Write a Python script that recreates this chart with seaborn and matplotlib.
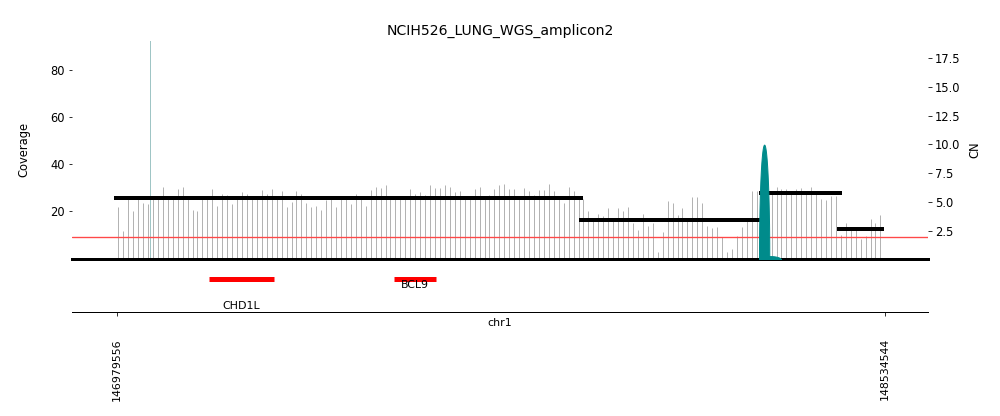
import numpy as np
import pandas as pd
import matplotlib
matplotlib.use("Agg")
import matplotlib.pyplot as plt
import seaborn as sns

# ---------------- data ----------------
title = "NCIH526_LUNG_WGS_amplicon2"
chrom = "chr1"
region_start = 146979556
region_end = 148534544

# binned coverage (10 kb windows)
bin_start = 146983000
bin_size = 10020
coverage = [
    21.7, 11.5, 25.5, 20.0, 25.5, 23.8, 23.0, 25.5, 25.5, 30.2,
    25.5, 25.5, 29.4, 30.6, 25.5, 20.7, 20.3, 25.5, 25.5, 29.4,
    22.5, 27.6, 27.2, 23.0, 25.5,
    28.1, 27.6, 25.5, 25.5, 29.1, 27.6, 29.4, 25.5, 28.6, 22.1,
    24.1, 28.5, 27.6, 23.8, 21.7, 22.5, 20.6, 24.9, 25.5, 21.7,
    25.5, 25.5, 23.0, 27.6, 25.5, 22.3,
    29.2, 30.2, 29.8, 31.1, 25.5, 25.5, 25.5, 25.5, 29.4, 27.6,
    28.1, 26.8, 31.1, 29.8, 29.8, 31.1, 30.6, 28.3, 28.7, 25.5,
    25.5, 29.4, 30.6, 25.5, 26.8, 29.4, 31.1,
    31.5, 29.4, 29.4, 25.5, 29.8, 28.9, 27.2, 29.0, 29.0, 31.5,
    28.9, 25.5, 23.8, 30.2, 28.5, 25.5, 25.5, 20.4, 16.0, 19.1,
    17.9, 21.3, 16.0, 21.3, 20.4, 22.1,
    14.9, 12.3, 18.8, 14.0, 14.9, 2.6, 11.1, 24.3, 23.4, 18.3,
    21.3, 16.0, 26.3, 26.0, 23.8, 14.0, 13.0, 13.4, 9.0, 2.9,
    3.9, 9.4, 13.6, 17.4, 28.9, 28.9,
    28.0, 28.0,
    28.9, 30.6, 29.4, 29.4, 27.8, 29.4, 29.8, 27.8, 30.2, 27.8,
    25.5, 24.7, 26.6, 26.6, 10.2, 15.3, 12.4, 12.4, 8.5, 9.4,
    16.6, 14.9, 18.3,
]

# copy-number segments
seg_start = [146974300, 147916350, 148280200, 148438150]
seg_end = [147923880, 148282250, 148447670, 148533300]
seg_cn = [5.34, 3.46, 5.80, 2.67]

# breakpoint arcs (start, end, height in CN units)
arc_start = [148280200, 148281500]
arc_end = [148301050, 148324750]
arc_height = [9.98, 0.30]

# very tall foldback edge
edge_pos = [147046570]

# genes
gene_names = ["CHD1L", "BCL9"]
gene_start = [147166640, 147541603]
gene_end = [147298246, 147626229]

baseline_cn = 2.0

# ---------------- style ----------------
sns.set_style("ticks")
plt.rcParams.update({
    "font.family": ["DejaVu Sans"],
    "text.color": "black",
    "axes.labelcolor": "black",
    "xtick.color": "black",
    "ytick.color": "black",
    "axes.edgecolor": "black",
})

fig = plt.figure(figsize=(1000 / 72, 416 / 72), dpi=72)
ax = fig.add_axes([0.072, 0.3786, 0.856, 0.5228])
ax2 = ax.twinx()
gax = fig.add_axes([0.072, 0.25, 0.856, 0.1202])

xlim = (146889256, 148622400)
fs = 11.5

# coverage bars
xpos = bin_start + np.arange(len(coverage)) * bin_size
ax.vlines(xpos, 0, coverage, color="#b3b3b3", lw=1, zorder=1)
ax.vlines(edge_pos, 0, 200, color="#5f9f9f", alpha=0.6, lw=1, zorder=2)
ax.set_xlim(*xlim)
ax.set_ylim(0, 92.5)
ax.set_yticks([20, 40, 60, 80])
ax.set_xticks([])
ax.tick_params(axis="y", length=3.5, width=0.8, labelsize=fs)
ax.set_ylabel("Coverage", fontsize=fs, labelpad=20)
ax.set_title(title, fontsize=14, pad=6)
for s in ["top", "left", "right"]:
    ax.spines[s].set_visible(False)
ax.spines["bottom"].set_linewidth(3)

# CN segments via seaborn
seg_df = pd.DataFrame({
    "pos": [p for a, b in zip(seg_start, seg_end) for p in (a, b)],
    "cn": [c for c in seg_cn for _ in range(2)],
    "seg": [i for i in range(len(seg_cn)) for _ in range(2)],
})
sns.lineplot(data=seg_df, x="pos", y="cn", units="seg", estimator=None,
             sort=False, color="black", lw=4, ax=ax2, zorder=3,
             solid_capstyle="butt")
ax2.axhline(baseline_cn, color="#ff4848", lw=1.35, zorder=2.5)

# breakpoint arcs
for a, b, h in zip(arc_start, arc_end, arc_height):
    c = (a + b) / 2
    w = (b - a) / 2
    xx = np.linspace(a, b, 200)
    yy = h * np.sqrt(np.clip(1 - ((xx - c) / w) ** 2, 0, 1))
    ax2.fill_between(xx, 0, yy, color="#008b8b", lw=1, edgecolor="#008b8b", zorder=4)

ax2.set_xlim(*xlim)
ax2.set_ylim(0.09, 18.98)
ax2.set_yticks([2.5, 5.0, 7.5, 10.0, 12.5, 15.0, 17.5])
ax2.tick_params(axis="y", length=3.5, width=0.8, labelsize=fs)
ax2.set_ylabel("CN", fontsize=fs, labelpad=8)
ax2.set_xlabel("")
for s in ["top", "left", "right", "bottom"]:
    ax2.spines[s].set_visible(False)

# gene track
gene_bar_y = 0.66
gene_label_y = [0.12, 0.54]
gax.hlines([gene_bar_y] * len(gene_names), gene_start, gene_end, color="red", lw=5)
for n, a, b, ly in zip(gene_names, gene_start, gene_end, gene_label_y):
    gax.text((a + b) / 2, ly, n, ha="center", va="center", fontsize=11)
gax.set_xlim(*xlim)
gax.set_ylim(0, 1)
gax.set_yticks([])
gax.set_xticks([region_start, region_end])
gax.set_xticklabels([str(region_start), str(region_end)], rotation=90, fontsize=11)
gax.tick_params(axis="x", length=3.5, width=0.8, pad=22.5)
gax.set_xlabel(chrom, fontsize=11)
gax.xaxis.set_label_coords(0.5, -0.11)
for s in ["top", "left", "right"]:
    gax.spines[s].set_visible(False)
gax.spines["bottom"].set_linewidth(1)

fig.savefig("out.png", dpi=72)
